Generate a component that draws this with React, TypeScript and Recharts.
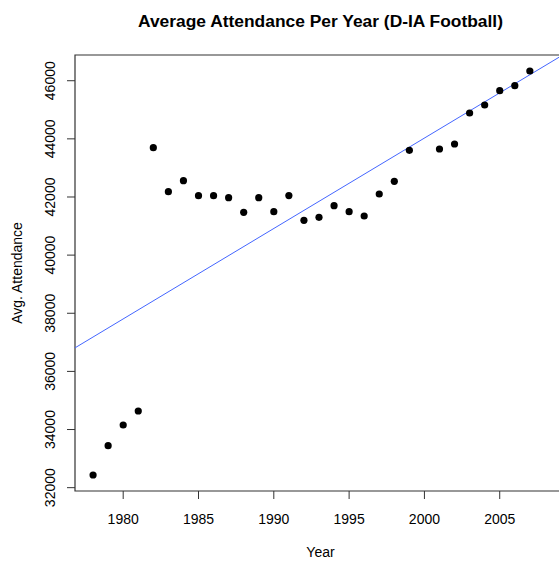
import React from "react";
import {
  ScatterChart, Scatter, XAxis, YAxis, ReferenceArea, Label,
} from "recharts";

// average D-IA attendance by season (no 2000 entry)
const years = [
  1978, 1979, 1980, 1981, 1982, 1983, 1984, 1985, 1986, 1987,
  1988, 1989, 1990, 1991, 1992, 1993, 1994, 1995, 1996, 1997,
  1998, 1999, 2001, 2002, 2003, 2004, 2005, 2006, 2007,
];
const attendance = [
  32436, 33444, 34156, 34638, 43695, 42182, 42560, 42044, 42044, 41975,
  41472, 41975, 41495, 42050, 41197, 41300, 41700, 41495, 41346, 42103,
  42540, 43606, 43651, 43823, 44889, 45164, 45656, 45828, 46334,
];

const xTicks = [1980, 1985, 1990, 1995, 2000, 2005];
const yTicks = [32000, 34000, 36000, 38000, 40000, 42000, 44000, 46000];

const X_DOMAIN: [number, number] = [1976.8, 2009.4];
const Y_DOMAIN: [number, number] = [31885, 46885];

const FONT = "'Liberation Sans', Arial, sans-serif";
const AXIS = "#333";

const points = years.map((year, i) => ({ year, att: attendance[i] }));

// ordinary least squares, like abline(lm(att ~ year))
function fitLine() {
  const n = points.length;
  const mx = points.reduce((s, p) => s + p.year, 0) / n;
  const my = points.reduce((s, p) => s + p.att, 0) / n;
  let sxy = 0;
  let sxx = 0;
  points.forEach((p) => {
    sxy += (p.year - mx) * (p.att - my);
    sxx += (p.year - mx) * (p.year - mx);
  });
  const b = sxy / sxx;
  const a = my - b * mx;
  return X_DOMAIN.map((x) => ({ year: x, att: a + b * x }));
}
const fitPoints = fitLine();

const Dot = (props: any) => (
  <circle cx={props.cx} cy={props.cy} r={3.6} fill="#000" />
);

const XTick = (props: any) => (
  <text x={props.x} y={props.y} dy="0.71em" textAnchor="middle"
    fontFamily={FONT} fontSize={14} fill="#000">
    {props.payload.value}
  </text>
);

const YTick = (props: any) => {
  const x = props.x - 10;
  return (
    <text x={x} y={props.y} textAnchor="middle" transform={`rotate(-90, ${x}, ${props.y})`}
      fontFamily={FONT} fontSize={14} fill="#000">
      {props.payload.value}
    </text>
  );
};

export default function App() {
  return (
    <div style={{ position: "fixed", left: 0, top: 0, width: 559, height: 562, overflow: "hidden", background: "#fff" }}>
      <div style={{
        position: "absolute", left: 0, width: 641, top: 10, textAlign: "center",
        fontFamily: FONT, fontWeight: "bold", fontSize: 17.4, lineHeight: "22px", color: "#000",
      }}>
        Average Attendance Per Year (D-IA Football)
      </div>
      <ScatterChart width={580} height={562} margin={{ top: 55, right: 14, left: 0, bottom: 0 }}>
        <XAxis type="number" dataKey="year" domain={X_DOMAIN} ticks={xTicks} allowDataOverflow
          height={71} axisLine={false} tickSize={8} tickMargin={15}
          tickLine={{ stroke: AXIS }} tick={<XTick />}>
          <Label value="Year" position="insideBottom" offset={5}
            style={{ fontFamily: FONT, fontSize: 14, fill: "#000" }} />
        </XAxis>
        <YAxis type="number" dataKey="att" domain={Y_DOMAIN} ticks={yTicks} allowDataOverflow
          width={75} axisLine={false} tickSize={8} tickMargin={2}
          tickLine={{ stroke: AXIS }} tick={<YTick />}>
          <Label content={(p: any) => {
            const vb = p.viewBox;
            const cx = vb.x + 22;
            const cy = vb.y + vb.height / 2;
            return (
              <text x={cx} y={cy} textAnchor="middle" transform={`rotate(-90, ${cx}, ${cy})`}
                fontFamily={FONT} fontSize={14} fill="#000">
                Avg. Attendance
              </text>
            );
          }} />
        </YAxis>
        <ReferenceArea x1={X_DOMAIN[0]} x2={X_DOMAIN[1]} y1={Y_DOMAIN[0]} y2={Y_DOMAIN[1]}
          fill="none" stroke={AXIS} strokeWidth={1.2} fillOpacity={0} />
        <Scatter data={fitPoints} line={{ stroke: "#4466ff", strokeWidth: 1 }} shape={() => <g />}
          isAnimationActive={false} />
        <Scatter data={points} shape={<Dot />} isAnimationActive={false} />
      </ScatterChart>
    </div>
  );
}
